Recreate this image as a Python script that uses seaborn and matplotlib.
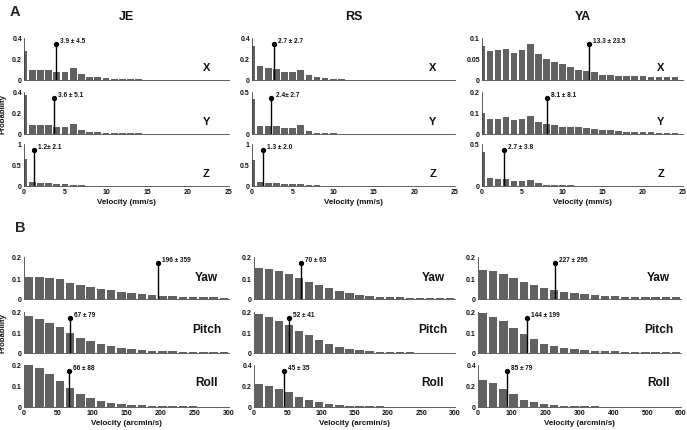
import numpy as np
import pandas as pd
import matplotlib
matplotlib.use("Agg")
import matplotlib.pyplot as plt
import seaborn as sns

sns.set_theme(style="white")
plt.rcParams['font.family'] = ['Liberation Sans', 'DejaVu Sans']

# ---------------- data ----------------
subjects = ["JE", "RS", "YA"]
axes_A = ["X", "Y", "Z"]
axes_B = ["Yaw", "Pitch", "Roll"]

bins_mm = [0, 1, 2, 3, 4, 5, 6, 7, 8, 9, 10, 11, 12, 13, 14, 15, 16, 17, 18, 19, 20, 21, 22, 23, 24]
bins_arc_300 = [7.5, 22.5, 37.5, 52.5, 67.5, 82.5, 97.5, 112.5, 127.5, 142.5, 157.5, 172.5, 187.5,
                202.5, 217.5, 232.5, 247.5, 262.5, 277.5, 292.5]
bins_arc_600 = [15, 45, 75, 105, 135, 165, 195, 225, 255, 285, 315, 345, 375, 405, 435, 465, 495,
                525, 555, 585]

JE_X = [0.273, 0.100, 0.098, 0.098, 0.076, 0.078, 0.110, 0.057, 0.029, 0.027, 0.020, 0.013, 0.010,
        0.007, 0.005, 0.004, 0.003, 0.003, 0.002, 0.002, 0.001, 0.001, 0.001, 0.001, 0.001]
JE_Y = [0.368, 0.089, 0.086, 0.089, 0.067, 0.070, 0.095, 0.041, 0.022, 0.019, 0.013, 0.010, 0.008,
        0.006, 0.005, 0.004, 0.003, 0.003, 0.002, 0.002, 0.001, 0.001, 0.001, 0.001, 0.001]
JE_Z = [0.640, 0.100, 0.078, 0.068, 0.040, 0.040, 0.034, 0.016, 0.009, 0.005, 0.003, 0.002, 0.002,
        0.001, 0.001, 0.001, 0.001, 0.001, 0.000, 0.000, 0.000, 0.000, 0.000, 0.000, 0.000]
RS_X = [0.327, 0.130, 0.114, 0.105, 0.076, 0.076, 0.100, 0.048, 0.025, 0.019, 0.010, 0.006, 0.004,
        0.003, 0.002, 0.002, 0.001, 0.001, 0.001, 0.001, 0.000, 0.000, 0.000, 0.000, 0.000]
RS_Y = [0.420, 0.099, 0.091, 0.091, 0.067, 0.075, 0.107, 0.040, 0.016, 0.012, 0.008, 0.005, 0.004,
        0.003, 0.002, 0.002, 0.001, 0.001, 0.001, 0.000, 0.000, 0.000, 0.000, 0.000, 0.000]
RS_Z = [0.616, 0.088, 0.080, 0.064, 0.048, 0.040, 0.040, 0.024, 0.016, 0.008, 0.005, 0.003, 0.002,
        0.001, 0.001, 0.001, 0.000, 0.000, 0.000, 0.000, 0.000, 0.000, 0.000, 0.000, 0.000]
YA_X = [0.082, 0.068, 0.071, 0.075, 0.065, 0.071, 0.086, 0.061, 0.049, 0.043, 0.037, 0.030, 0.025,
        0.021, 0.018, 0.012, 0.011, 0.0095, 0.0087, 0.0087, 0.0087, 0.008, 0.007, 0.0064, 0.0064]
YA_Y = [0.100, 0.073, 0.073, 0.081, 0.067, 0.071, 0.086, 0.057, 0.046, 0.041, 0.035, 0.035, 0.032,
        0.027, 0.022, 0.021, 0.017, 0.014, 0.011, 0.0095, 0.0095, 0.008, 0.006, 0.006, 0.005]
YA_Z = [0.410, 0.092, 0.088, 0.088, 0.060, 0.060, 0.076, 0.032, 0.016, 0.012, 0.008, 0.006, 0.005,
        0.004, 0.003, 0.003, 0.002, 0.002, 0.002, 0.001, 0.001, 0.001, 0.001, 0.001, 0.001]

JE_Yaw = [0.107, 0.106, 0.098, 0.093, 0.078, 0.067, 0.059, 0.048, 0.042, 0.034, 0.027, 0.022, 0.019,
          0.014, 0.013, 0.0096, 0.0096, 0.008, 0.008, 0.0064]
JE_Pitch = [0.179, 0.166, 0.144, 0.126, 0.099, 0.074, 0.058, 0.042, 0.032, 0.024, 0.018, 0.014, 0.011,
            0.0096, 0.008, 0.0064, 0.0064, 0.005, 0.005, 0.005]
JE_Roll = [0.200, 0.186, 0.157, 0.125, 0.090, 0.064, 0.042, 0.027, 0.019, 0.014, 0.0096, 0.008, 0.0064,
           0.005, 0.004, 0.003, 0.003, 0.002, 0.002, 0.002]
RS_Yaw = [0.150, 0.144, 0.131, 0.117, 0.101, 0.083, 0.067, 0.051, 0.037, 0.030, 0.021, 0.016, 0.011,
          0.0096, 0.008, 0.0064, 0.005, 0.005, 0.003, 0.003]
RS_Pitch = [0.189, 0.178, 0.158, 0.136, 0.109, 0.086, 0.062, 0.043, 0.029, 0.018, 0.013, 0.008, 0.0064,
            0.005, 0.004, 0.003, 0.002, 0.002, 0.002, 0.001]
RS_Roll = [0.218, 0.198, 0.170, 0.144, 0.099, 0.070, 0.045, 0.029, 0.019, 0.013, 0.0096, 0.006, 0.005,
           0.004, 0.003, 0.002, 0.002, 0.002, 0.001, 0.001]
YA_Yaw = [0.139, 0.133, 0.118, 0.101, 0.082, 0.066, 0.051, 0.042, 0.032, 0.027, 0.022, 0.019, 0.016,
          0.014, 0.011, 0.0096, 0.0096, 0.0096, 0.008, 0.008]
YA_Pitch = [0.197, 0.178, 0.155, 0.123, 0.091, 0.066, 0.045, 0.034, 0.024, 0.019, 0.014, 0.011, 0.0096,
            0.008, 0.0064, 0.0064, 0.005, 0.005, 0.005, 0.005]
YA_Roll = [0.256, 0.227, 0.176, 0.125, 0.070, 0.051, 0.029, 0.019, 0.013, 0.0096, 0.006, 0.005, 0.004,
           0.003, 0.003, 0.002, 0.002, 0.002, 0.001, 0.001]

# means (stem positions) and labels
means_A = {"JE": [3.9, 3.6, 1.2], "RS": [2.7, 2.4, 1.3], "YA": [13.3, 8.1, 2.7]}
labels_A = {"JE": ["3.9 ± 4.5", "3.6 ± 5.1", "1.2± 2.1"],
            "RS": ["2.7 ± 2.7", "2.4± 2.7", "1.3 ± 2.0"],
            "YA": ["13.3 ± 23.5", "8.1 ± 8.1", "2.7 ± 3.8"]}
means_B = {"JE": [196, 67, 66], "RS": [70, 52, 45], "YA": [227, 144, 85]}
labels_B = {"JE": ["196 ± 359", "67 ± 79", "66 ± 88"],
            "RS": ["70 ± 63", "52 ± 41", "45 ± 35"],
            "YA": ["227 ± 295", "144 ± 199", "85 ± 79"]}

yticks_A = {"JE": [[0, 0.2, 0.4], [0, 0.2, 0.4], [0, 0.5, 1]],
            "RS": [[0, 0.2, 0.4], [0, 0.5], [0, 0.5, 1]],
            "YA": [[0, 0.05, 0.1], [0, 0.1, 0.2], [0, 0.5]]}
yticks_B = {"JE": [[0, 0.1, 0.2], [0, 0.1, 0.2], [0, 0.1, 0.2]],
            "RS": [[0, 0.1, 0.2], [0, 0.1, 0.2], [0, 0.2, 0.4]],
            "YA": [[0, 0.1, 0.2], [0, 0.1, 0.2], [0, 0.2, 0.4]]}
xticks_A = [0, 5, 10, 15, 20, 25]
xticks_B = {"JE": [0, 50, 100, 150, 200, 250, 300],
            "RS": [0, 50, 100, 150, 200, 250, 300],
            "YA": [0, 100, 200, 300, 400, 500, 600]}

data_A = {"JE": [JE_X, JE_Y, JE_Z], "RS": [RS_X, RS_Y, RS_Z], "YA": [YA_X, YA_Y, YA_Z]}
data_B = {"JE": [JE_Yaw, JE_Pitch, JE_Roll], "RS": [RS_Yaw, RS_Pitch, RS_Roll],
          "YA": [YA_Yaw, YA_Pitch, YA_Roll]}
bins_B = {"JE": bins_arc_300, "RS": bins_arc_300, "YA": bins_arc_600}

# ---------------- layout ----------------
W, H = 687, 431
fig = plt.figure(figsize=(W / 100, H / 100), dpi=100)

def add_ax(x0, x1, y0, y1):
    return fig.add_axes([x0 / W, 1 - y1 / H, (x1 - x0) / W, (y1 - y0) / H])

colsA = [(24, 229), (252, 455), (482, 683)]
rowsA = [(39, 81), (93, 135), (145, 187)]
colsB = [(24, 229), (254, 455), (478, 681)]
rowsB = [(258, 300), (313, 354), (366, 408)]

BAR = "#616161"
TXT = "#111111"

def fmt(v):
    return "%g" % v

def panel(ax, bins, vals, xlim, yt, xt, mean, lab, name, show_xlab, xlabel, name_y, name_fs):
    df = pd.DataFrame({"v": bins, "p": vals})
    sns.barplot(data=df, x="v", y="p", native_scale=True, width=0.82, color=BAR,
                saturation=1, edgecolor="none", errorbar=None, ax=ax)
    ax.set_xlim(*xlim)
    ytop = yt[-1]
    ax.set_ylim(0, ytop)
    h = 0.86 * ytop
    ax.plot([mean, mean], [0, h], color="black", lw=1.0, zorder=5)
    ax.plot([mean], [h], "o", color="black", ms=2.8, zorder=6)
    ax.annotate(lab, xy=(mean, h), xytext=(3, 2.5), textcoords="offset points",
                fontsize=4.7, fontweight="bold", color=TXT, va="center", ha="left")
    ax.text(0.89, name_y, name, transform=ax.transAxes, fontsize=name_fs,
            fontweight="bold", ha="center", va="center", color=TXT)
    ax.set_yticks(yt)
    ax.set_yticklabels([fmt(v) for v in yt])
    ax.set_xticks(xt)
    if show_xlab:
        ax.set_xticklabels([fmt(v) for v in xt])
        ax.set_xlabel(xlabel, fontsize=5.8, fontweight="bold", color=TXT, labelpad=2)
    else:
        ax.set_xticklabels([])
        ax.set_xlabel("")
    ax.set_ylabel("")
    for s in ["top", "right"]:
        ax.spines[s].set_visible(False)
    for s in ["left", "bottom"]:
        ax.spines[s].set_color("#444444")
        ax.spines[s].set_linewidth(0.6)
    ax.tick_params(direction="in", length=2, width=0.5, labelsize=5.0, pad=1.5,
                   colors="#444444", labelcolor=TXT)
    for t in ax.get_xticklabels() + ax.get_yticklabels():
        t.set_fontweight("bold")
    ax.patch.set_alpha(0)

for ci, subj in enumerate(subjects):
    for ri in range(3):
        ax = add_ax(colsA[ci][0], colsA[ci][1], rowsA[ri][0], rowsA[ri][1])
        panel(ax, bins_mm, data_A[subj][ri], (0, 25), yticks_A[subj][ri], xticks_A,
              means_A[subj][ri], labels_A[subj][ri], axes_A[ri], ri == 2,
              "Velocity (mm/s)", 0.32, 8.0)
        if ci == 0 and ri == 1:
            ax.set_ylabel("Probability", fontsize=5.6, fontweight="bold", color=TXT, labelpad=4)
    for ri in range(3):
        ax = add_ax(colsB[ci][0], colsB[ci][1], rowsB[ri][0], rowsB[ri][1])
        xmax = xticks_B[subj][-1]
        panel(ax, bins_B[subj], data_B[subj][ri], (0, xmax), yticks_B[subj][ri], xticks_B[subj],
              means_B[subj][ri], labels_B[subj][ri], axes_B[ri], ri == 2,
              "Velocity (arcmin/s)", [0.53, 0.58, 0.6][ri], 8.6)
        if ci == 0 and ri == 1:
            ax.set_ylabel("Probability", fontsize=5.6, fontweight="bold", color=TXT, labelpad=4)

# column titles
for ci, subj in enumerate(subjects):
    cx = (colsA[ci][0] + colsA[ci][1]) / 2
    fig.text(cx / W, 1 - 17 / H, subj, fontsize=9, fontweight="bold", ha="center",
             va="center", color=TXT)

fig.text(15 / W, 1 - 12.5 / H, "A", fontsize=10.5, fontweight="bold", ha="center", va="center")
fig.text(20 / W, 1 - 228 / H, "B", fontsize=10.5, fontweight="bold", ha="center", va="center")

fig.savefig("out.png", dpi=100)
